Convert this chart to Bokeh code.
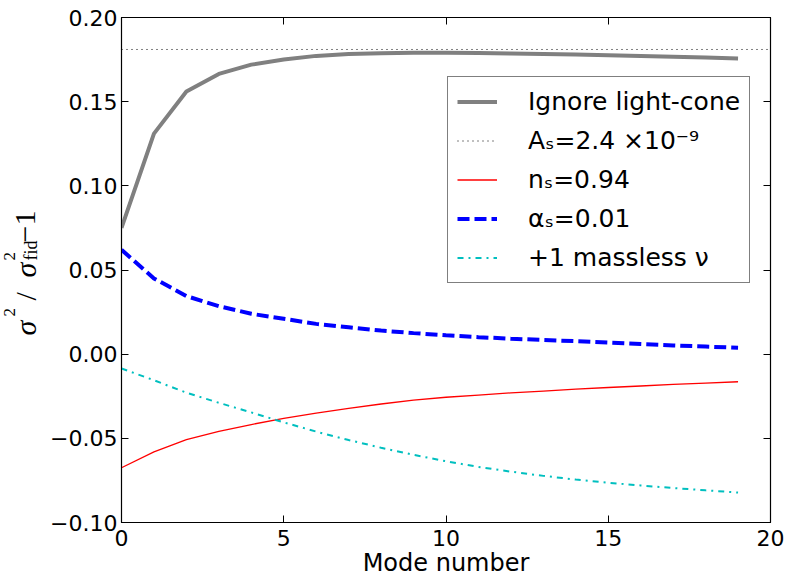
import math
from bokeh.plotting import figure
from bokeh.layouts import row
from bokeh.models import (Legend, LegendItem, LinearAxis, Label, FixedTicker,
                          CustomJSTickFormatter, Range1d)
from bokeh.embed import file_html
from bokeh.resources import INLINE

# ---------------- data ----------------
mode = list(range(20))
ignore_light_cone = [0.075, 0.131, 0.156, 0.1665, 0.172, 0.175, 0.1772, 0.1783, 0.1788, 0.179,
                     0.179, 0.1789, 0.1786, 0.1783, 0.178, 0.1776, 0.1772, 0.1767, 0.1762, 0.1757]
as_level = 0.181
ns_094 = [-0.0675, -0.058, -0.0508, -0.0458, -0.0418, -0.0382, -0.035, -0.0322, -0.0296, -0.0273,
          -0.0256, -0.0243, -0.023, -0.0219, -0.0208, -0.0198, -0.0189, -0.018, -0.0172, -0.0164]
alpha_s_001 = [0.062, 0.045, 0.0345, 0.0285, 0.024, 0.021, 0.018, 0.016, 0.014, 0.0125,
               0.0112, 0.0101, 0.0092, 0.0084, 0.0077, 0.0069, 0.006, 0.0052, 0.0045, 0.0038]
massless_nu = [-0.0085, -0.0155, -0.0229, -0.0289, -0.0346, -0.0405, -0.046, -0.051, -0.0556, -0.0598,
               -0.0636, -0.067, -0.0698, -0.0723, -0.0745, -0.0764, -0.078, -0.0795, -0.0809, -0.0822]

x_limits = [0, 20]
y_limits = [-0.10, 0.20]
x_ticks = [0, 5, 10, 15, 20]
y_ticks = [-0.10, -0.05, 0.0, 0.05, 0.10, 0.15, 0.20]
legend_labels = ["Ignore light-cone", "A\u209b=2.4 \u00d710\u207b\u2079", "n\u209b=0.94",
                 "\u03b1\u209b=0.01", "+1 massless \u03bd"]
x_label = "Mode number"

# ---------------- layout constants ----------------
W, H = 788, 583
LW = 42                               # width of the strip holding the y label
FL, FR, FT, FB = 121, 770, 17, 522    # frame edges in page pixels

p = figure(width=W - LW, height=H, output_backend="svg", toolbar_location=None,
           title=None,
           x_range=Range1d(*x_limits), y_range=Range1d(*y_limits),
           min_border_left=FL - LW, min_border_right=W - FR, min_border_top=FT,
           min_border_bottom=H - FB)
p.grid.visible = False
p.background_fill_color = "white"
p.border_fill_color = "white"
p.outline_line_color = "black"
p.outline_line_width = 1.2

r_gray = p.line(mode, ignore_light_cone, line_color="#808080", line_width=4)
r_as = p.line(x_limits, [as_level, as_level], line_color="black", line_width=1, line_dash="1 4")
r_ns = p.line(mode, ns_094, line_color="#ff0000", line_width=1.3)
r_al = p.line(mode, alpha_s_001, line_color="#0000ff", line_width=4, line_dash="12 5")
r_nu = p.line(mode, massless_nu, line_color="#00bfbf", line_width=2, line_dash="6 5 2 5")

tick_font = "DejaVu Sans"
minus_fmt = CustomJSTickFormatter(code="""
const a = Math.abs(tick).toFixed(2);
return (tick < -1e-9 ? '\\u2212' : '') + a;
""")
x_fmt = CustomJSTickFormatter(code="return tick.toFixed(0);")
blank_fmt = CustomJSTickFormatter(code="return '';")

def style_axis(ax):
    ax.major_tick_in = 7
    ax.major_tick_out = 0
    ax.minor_tick_in = 0
    ax.minor_tick_out = 0
    ax.axis_line_color = "black"
    ax.major_tick_line_color = "black"
    ax.major_label_text_font = tick_font
    ax.major_label_text_font_size = "22px"
    ax.major_label_text_color = "black"

xa = p.xaxis[0]
xa.ticker = FixedTicker(ticks=x_ticks)
xa.formatter = x_fmt
style_axis(xa)
xa.major_label_standoff = 7
xa.axis_label = x_label
xa.axis_label_text_font = tick_font
xa.axis_label_text_font_style = "normal"
xa.axis_label_text_font_size = "24px"
xa.axis_label_text_color = "black"
xa.axis_label_standoff = 0

ya = p.yaxis[0]
ya.ticker = FixedTicker(ticks=y_ticks)
ya.formatter = minus_fmt
style_axis(ya)
ya.major_label_standoff = 4

top_ax = LinearAxis(ticker=FixedTicker(ticks=x_ticks), formatter=blank_fmt)
style_axis(top_ax)
top_ax.major_label_standoff = 0
p.add_layout(top_ax, "above")
right_ax = LinearAxis(ticker=FixedTicker(ticks=y_ticks), formatter=blank_fmt)
style_axis(right_ax)
right_ax.major_label_standoff = 0
p.add_layout(right_ax, "right")

legend = Legend(items=[LegendItem(label=legend_labels[0], renderers=[r_gray]),
                       LegendItem(label=legend_labels[1], renderers=[r_as]),
                       LegendItem(label=legend_labels[2], renderers=[r_ns]),
                       LegendItem(label=legend_labels[3], renderers=[r_al]),
                       LegendItem(label=legend_labels[4], renderers=[r_nu])],
                location=(447 - FL, FB - 283))
legend.border_line_color = "black"
legend.border_line_width = 1.2
legend.background_fill_color = "white"
legend.background_fill_alpha = 1
legend.label_text_font = tick_font
legend.label_text_font_size = "25px"
legend.label_text_color = "black"
legend.glyph_width = 40
legend.glyph_height = 31
legend.label_height = 31
legend.spacing = 8
legend.padding = 9
legend.margin = 0
legend.label_standoff = 31
p.add_layout(legend)

# ---------------- y-axis label strip ----------------
lab = figure(frame_width=LW, frame_height=H, output_backend="svg", toolbar_location=None,
             title=None, x_range=Range1d(0, LW), y_range=Range1d(0, H),
             min_border=0, x_axis_type=None, y_axis_type=None)
lab.grid.visible = False
lab.outline_line_color = None
lab.background_fill_color = "white"
lab.border_fill_color = "white"

serif = "Liberation Serif"
DX, DY = -10, 14      # empirical correction for rotated-text anchoring
pieces = [   # text, baseline x (page px), start y (page px), size, style
    ("\u03c3", 35, 332, "30px", "italic"),
    ("2", 19, 313, "17px", "normal"),
    ("/", 35, 297, "30px", "normal"),
    ("\u03c3", 35, 274, "30px", "italic"),
    ("2", 19, 257, "17px", "normal"),
    ("fid", 40, 257, "18px", "normal"),
    ("\u2212", 35, 239, "30px", "normal"),
    ("1", 35, 222, "30px", "normal"),
]
for txt, bx, py, fs, st in pieces:
    lab.add_layout(Label(x=bx + DX, y=H - py + DY, x_units="screen", y_units="screen", text=txt,
                         angle=math.pi / 2, text_font=serif, text_font_size=fs,
                         text_font_style=st, text_align="left", text_baseline="alphabetic",
                         text_color="black"))

layout = row(lab, p, spacing=0)
open("out.html", "w").write(file_html(layout, INLINE))
